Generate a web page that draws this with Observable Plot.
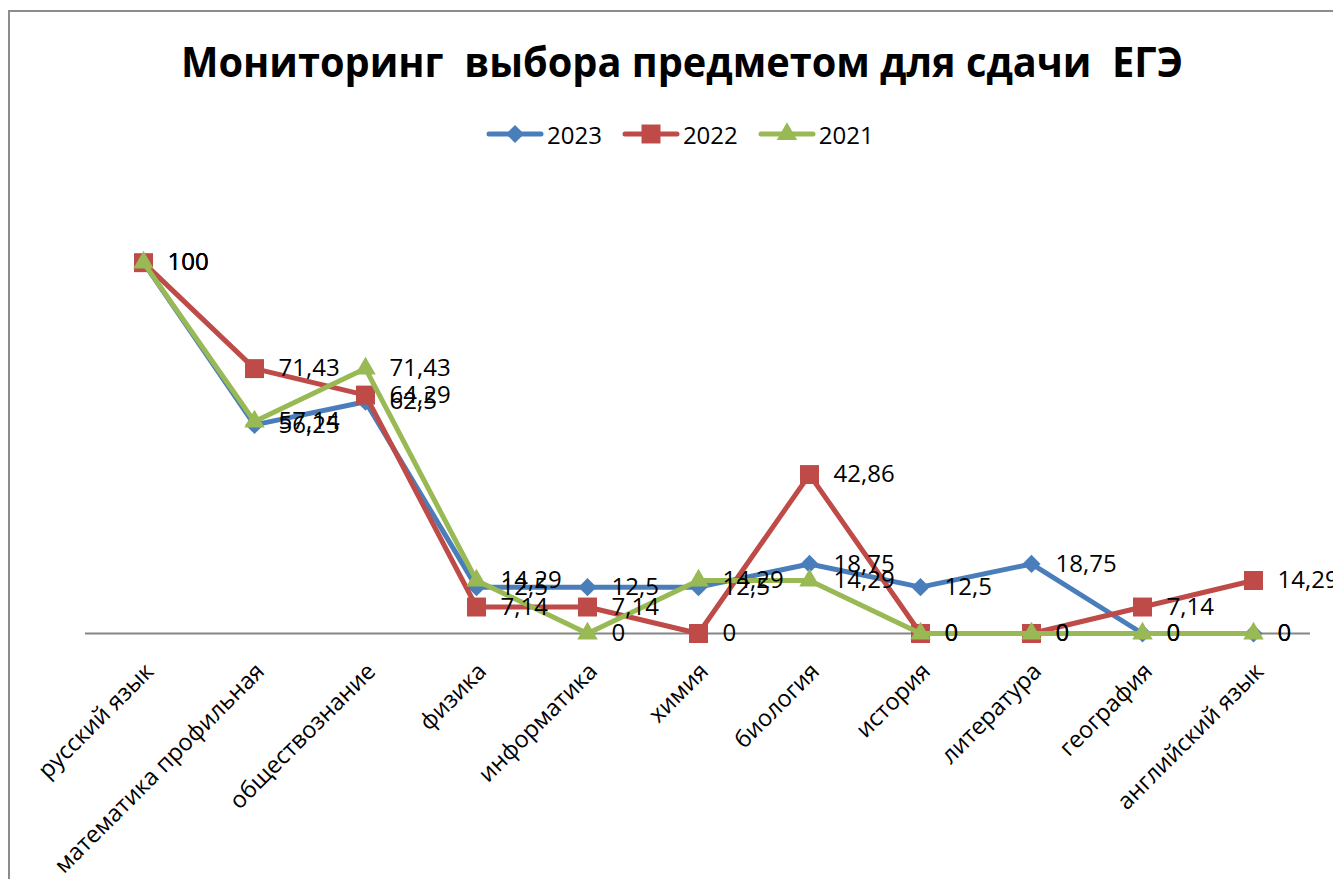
<!DOCTYPE html>
<html>
<head>
<meta charset="utf-8">
<script src="https://cdn.jsdelivr.net/npm/d3@7"></script>
<script src="https://cdn.jsdelivr.net/npm/@observablehq/plot@0.6"></script>
<style>
  html, body { margin: 0; padding: 0; background: #fff; overflow: hidden; }
  #wrap { position: relative; width: 1333px; height: 879px; overflow: hidden; font-family: "Open Sans", sans-serif; }
  #frame { position: absolute; left: 8px; top: 10px; width: 1400px; height: 1000px; border: 2px solid #8c8c8c; box-sizing: border-box; }
  #title { position: absolute; left: 682px; top: 40px; white-space: pre; font-weight: bold; font-size: 42px; line-height: 42px; color: #000; transform-origin: center; }
  #legend { position: absolute; top: 121px; left: 486px; height: 26px; display: flex; align-items: center; font-size: 24px; color: #000; }
  #legend .item { display: flex; align-items: center; margin-right: 20px; }
  #legend svg { display: block; margin-right: 3px; }
  #chart { position: absolute; left: 0; top: 0; }
</style>
</head>
<body>
<div id="wrap">
  <div id="frame"></div>
  <div id="chart"></div>
  <div id="title">Мониторинг  выбора предметом для сдачи  ЕГЭ</div>
  <div id="legend"></div>
</div>
<script>
const categories = ["русский язык", "математика профильная", "обществознание", "физика", "информатика", "химия", "биология", "история", "литература", "география", "английский язык"];
const years = ["2023", "2022", "2021"];
const v2023 = [100, 56.25, 62.5, 12.5, 12.5, 12.5, 18.75, 12.5, 18.75, 0, 0];
const v2022 = [100, 71.43, 64.29, 7.14, 7.14, 0, 42.86, 0, 0, 7.14, 14.29];
const v2021 = [100, 57.14, 71.43, 14.29, 0, 14.29, 14.29, 0, 0, 0, 0];
const colors = ["#4A7EBB", "#BE4B48", "#98B954"];
const symbols = ["diamond2", "square", "triangle"];
const radii = [8.2, 10.7, 7.6];

const valuesByYear = [v2023, v2022, v2021];
const tables = years.map((y, k) => categories.map((c, i) => ({cat: c, year: y, v: valuesByYear[k][i]})));
const fmt = v => String(v).replace(".", ",");

const marks = [
  Plot.ruleY([0], {stroke: "#868686", strokeWidth: 2}),
  Plot.axisX({tickSize: 0, tickRotate: -45, tickPadding: 34, fontSize: 23.5, fill: "#000", dx: 6, label: null})
];
tables.forEach((t, k) => {
  marks.push(Plot.line(t, {x: "cat", y: "v", stroke: colors[k], strokeWidth: 5, strokeLinejoin: "round", strokeLinecap: "round"}));
  marks.push(Plot.dot(t, {x: "cat", y: "v", symbol: symbols[k], fill: colors[k], r: radii[k]}));
});
tables.forEach((t, k) => {
  marks.push(Plot.text(t, {x: "cat", y: "v", text: d => fmt(d.v), dx: 24, textAnchor: "start", fontSize: 24, fill: "#000"}));
});

const chart = Plot.plot({
  width: 1333,
  height: 879,
  marginTop: 188,
  marginBottom: 246,
  marginLeft: 85,
  marginRight: 23,
  x: {type: "point", domain: categories, padding: 0.5, axis: null, label: null},
  y: {domain: [0, 120], axis: null},
  style: {background: "transparent", fontFamily: "'Open Sans', sans-serif", overflow: "visible"},
  marks
});
document.getElementById("chart").appendChild(chart);

// legend
const legend = document.getElementById("legend");
years.forEach((y, k) => {
  const item = document.createElement("div");
  item.className = "item";
  const s = d3.create("svg").attr("width", 58).attr("height", 24);
  s.append("line").attr("x1", 3).attr("x2", 55).attr("y1", 12).attr("y2", 12)
    .attr("stroke", colors[k]).attr("stroke-width", 5).attr("stroke-linecap", "round");
  s.append("path").attr("transform", "translate(29,12)")
    .attr("d", d3.symbol(k === 0 ? d3.symbolDiamond2 : k === 1 ? d3.symbolSquare : d3.symbolTriangle, Math.PI * radii[k] * radii[k])())
    .attr("fill", colors[k]);
  item.appendChild(s.node());
  const txt = document.createElement("span");
  txt.textContent = y;
  item.appendChild(txt);
  legend.appendChild(item);
});

// fit title width
const title = document.getElementById("title");
const w = title.getBoundingClientRect().width;
const k = 1002 / w;
title.style.transform = `translateX(-50%) scaleX(${k})`;
</script>
</body>
</html>
